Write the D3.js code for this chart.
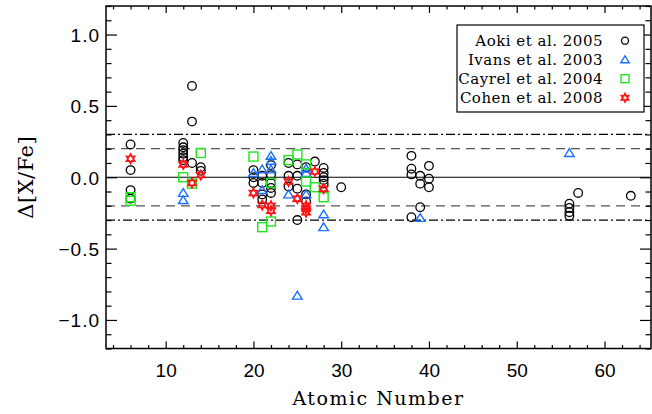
<!DOCTYPE html>
<html><head><meta charset="utf-8">
<script src="https://cdn.jsdelivr.net/npm/d3@7"></script>
<style>
html,body{margin:0;padding:0;background:#fff;}
svg{display:block;}
</style></head>
<body>
<svg id="chart" width="652" height="414"></svg>
<script>
// ---- data ----
const aokiZ   = [6,6,6,6, 12,12,12,12,12,12, 13,13,13, 14,14, 20,20,20, 21,21,21,21, 22,22,22,22,22, 24,24,24, 25,25,25,25, 26,26,26, 27, 28,28,28,28,28, 30, 38,38,38,38, 39,39,39, 40,40,40, 56,56,56,56, 57, 63];
const aokiV   = [0.23,0.05,-0.09,-0.15, 0.24,0.21,0.19,0.165,0.14,0.12, 0.64,0.39,0.10, 0.07,0.045, 0.05,0.0,-0.04, 0.01,-0.04,-0.12,-0.155, 0.085,0.015,-0.04,-0.075,-0.11, 0.10,0.01,-0.065, 0.09,0.01,-0.08,-0.30, 0.07,-0.12,-0.17, 0.11, 0.065,0.03,0.0,-0.02,-0.045, -0.07, 0.15,0.06,0.02,-0.28, 0.01,-0.045,-0.21, 0.08,-0.01,-0.07, -0.185,-0.215,-0.245,-0.27, -0.11, -0.13];
const ivansZ  = [12,12, 20, 21,21, 22,22,22, 24, 25, 26,26,26, 28,28, 39, 56];
const ivansV  = [-0.11,-0.16, 0.03, 0.055,-0.09, 0.15,0.115,0.055, -0.12, -0.83, 0.06,0.03,-0.12, -0.26,-0.35, -0.285, 0.17];
const cayrelZ = [6,6, 12, 13, 14, 20, 21, 22,22, 24, 25, 26,26, 27, 28];
const cayrelV = [-0.14,-0.165, 0.0, -0.045, 0.17, 0.145, -0.35, -0.04,-0.31, 0.12, 0.16, 0.09,-0.03, -0.07, -0.14];
const cohenZ  = [6, 12, 13, 14, 20, 21, 22,22, 24, 25, 26,26,26, 27, 28];
const cohenV  = [0.13, 0.09, -0.04, 0.015, -0.11, -0.195, -0.2,-0.235, -0.03, -0.15, -0.2,-0.22,-0.245, 0.04, -0.08];
const legendLabels = ["Aoki et al. 2005","Ivans et al. 2003","Cayrel et al. 2004","Cohen et al. 2008"];
const xTicks = [10,20,30,40,50,60];
const yTicks = [-1.0,-0.5,0.0,0.5,1.0];
const refSolid = [0];
const refDash = [-0.2, 0.2];
const refDashDot = [-0.3, 0.3];

// ---- layout ----
const L=106, R=651, T=6, B=348.5;
const svg = d3.select("#chart");
const x = d3.scaleLinear().domain([3.2,65.3]).range([L,R]);
const y = d3.scaleLinear().domain([-1.2,1.2]).range([B,T]);

const colors = {aoki:"#000000", ivans:"#1a70ff", cayrel:"#1ee61e", cohen:"#ff1414"};

// reference lines
const g = svg.append("g");
g.selectAll(".rs").data(refSolid).enter().append("line")
  .attr("x1",L).attr("x2",R).attr("y1",d=>y(d)).attr("y2",d=>y(d))
  .attr("stroke","#000").attr("stroke-width",1.2);
g.selectAll(".rd").data(refDash).enter().append("line")
  .attr("x1",L).attr("x2",R).attr("y1",d=>y(d)).attr("y2",d=>y(d))
  .attr("stroke","#555").attr("stroke-width",1.3).attr("stroke-dasharray","9,6");
g.selectAll(".rdd").data(refDashDot).enter().append("line")
  .attr("x1",L).attr("x2",R).attr("y1",d=>y(d)).attr("y2",d=>y(d))
  .attr("stroke","#000").attr("stroke-width",1.2).attr("stroke-dasharray","9,3,2,3");

// symbols
function triPath(s){ const h=s*0.9; return `M0,${-h} L${s},${h*0.8} L${-s},${h*0.8} Z`; }
function starPath(r){
  let p="";
  for(let i=0;i<12;i++){
    const a = Math.PI/6*i - Math.PI/2;
    const rr = i%2===0 ? r : r*0.55;
    p += (i===0?"M":"L") + (rr*Math.cos(a)).toFixed(2)+","+(rr*Math.sin(a)).toFixed(2);
  }
  return p+"Z";
}
const zip = (a,b)=>a.map((d,i)=>({z:d,v:b[i]}));

function drawSeries(data, kind, gg){
  const sel = gg.selectAll(null).data(data).enter();
  if(kind==="aoki"){
    sel.append("circle").attr("cx",d=>x(d.z)).attr("cy",d=>y(d.v)).attr("r",4.3)
      .attr("fill","none").attr("stroke",colors.aoki).attr("stroke-width",1.3);
  } else if(kind==="ivans"){
    sel.append("path").attr("d",triPath(4.8)).attr("transform",d=>`translate(${x(d.z)},${y(d.v)})`)
      .attr("fill","none").attr("stroke",colors.ivans).attr("stroke-width",1.4);
  } else if(kind==="cayrel"){
    sel.append("rect").attr("x",d=>x(d.z)-4.5).attr("y",d=>y(d.v)-4.5).attr("width",9).attr("height",9)
      .attr("fill","none").attr("stroke",colors.cayrel).attr("stroke-width",1.4);
  } else {
    sel.append("path").attr("d",starPath(4.5)).attr("transform",d=>`translate(${x(d.z)},${y(d.v)})`)
      .attr("fill","none").attr("stroke",colors.cohen).attr("stroke-width",1.8);
  }
}
const pg = svg.append("g");
drawSeries(zip(aokiZ,aokiV),"aoki",pg);
drawSeries(zip(ivansZ,ivansV),"ivans",pg);
drawSeries(zip(cayrelZ,cayrelV),"cayrel",pg);
drawSeries(zip(cohenZ,cohenV),"cohen",pg);

// axes
const fmt = d => d.toFixed(1).replace("-","\u2212");
const xMinor = d3.range(4,66,2).filter(v=>v%10!==0);
const yMinor = d3.range(-12,13,1).map(v=>v/10).filter(v=>Math.abs(v*2-Math.round(v*2))>1e-6);

function styleAxis(a){ a.select(".domain").remove(); a.selectAll("line").attr("stroke","#000").attr("stroke-width",1.2); }

const xb = svg.append("g").attr("transform",`translate(0,${B})`)
  .call(d3.axisBottom(x).tickValues(xTicks).tickSize(-7).tickPadding(15).tickFormat(d3.format("d")));
styleAxis(xb);
xb.selectAll("text").attr("font-family","Liberation Sans, Arial, sans-serif").attr("font-size",19).attr("fill","#000");
const xbm = svg.append("g").attr("transform",`translate(0,${B})`)
  .call(d3.axisBottom(x).tickValues(xMinor).tickSize(-3.5).tickFormat(""));
styleAxis(xbm);
const xt = svg.append("g").attr("transform",`translate(0,${T})`)
  .call(d3.axisTop(x).tickValues(xTicks).tickSize(-7).tickFormat(""));
styleAxis(xt);
const xtm = svg.append("g").attr("transform",`translate(0,${T})`)
  .call(d3.axisTop(x).tickValues(xMinor).tickSize(-3.5).tickFormat(""));
styleAxis(xtm);

const yl = svg.append("g").attr("transform",`translate(${L},0)`)
  .call(d3.axisLeft(y).tickValues(yTicks).tickSize(-11).tickPadding(6).tickFormat(fmt));
styleAxis(yl);
yl.selectAll("text").attr("font-family","Liberation Sans, Arial, sans-serif").attr("font-size",19).attr("fill","#000").attr("dy","0.36em").attr("letter-spacing","1px");
const ylm = svg.append("g").attr("transform",`translate(${L},0)`)
  .call(d3.axisLeft(y).tickValues(yMinor).tickSize(-5.5).tickFormat(""));
styleAxis(ylm);
const yr = svg.append("g").attr("transform",`translate(${R},0)`)
  .call(d3.axisRight(y).tickValues(yTicks).tickSize(-11).tickFormat(""));
styleAxis(yr);
const yrm = svg.append("g").attr("transform",`translate(${R},0)`)
  .call(d3.axisRight(y).tickValues(yMinor).tickSize(-5.5).tickFormat(""));
styleAxis(yrm);

// frame
svg.append("rect").attr("x",L).attr("y",T).attr("width",R-L).attr("height",B-T)
  .attr("fill","none").attr("stroke","#000").attr("stroke-width",1.5);

// titles
svg.append("text").attr("x",(L+R)/2).attr("y",405).attr("text-anchor","middle")
  .attr("font-family","DejaVu Serif, serif").attr("font-size",19).attr("letter-spacing","1.5px")
  .text("Atomic Number");
svg.append("text").attr("transform",`translate(33,${(T+B)/2}) rotate(-90)`).attr("text-anchor","middle")
  .attr("font-family","DejaVu Serif, serif").attr("font-size",21).attr("letter-spacing","0.5px")
  .text("\u0394[X/Fe]");

// legend
const lg = svg.append("g");
lg.append("rect").attr("x",457).attr("y",25).attr("width",187).attr("height",87)
  .attr("fill","#fff").attr("stroke","#000").attr("stroke-width",1.2);
const kinds = ["aoki","ivans","cayrel","cohen"];
legendLabels.forEach((lab,i)=>{
  const cy = 40.7 + i*19;
  lg.append("text").attr("x",603).attr("y",cy).attr("dy","0.35em").attr("text-anchor","end")
    .attr("font-family","DejaVu Serif, serif").attr("font-size",15).attr("letter-spacing","0.5px").text(lab);
  const k = kinds[i];
  if(k==="aoki") lg.append("circle").attr("cx",625).attr("cy",cy).attr("r",3.5).attr("fill","none").attr("stroke",colors.aoki).attr("stroke-width",1.3);
  if(k==="ivans") lg.append("path").attr("d",triPath(4.2)).attr("transform",`translate(625,${cy})`).attr("fill","none").attr("stroke",colors.ivans).attr("stroke-width",1.4);
  if(k==="cayrel") lg.append("rect").attr("x",621).attr("y",cy-4).attr("width",8).attr("height",8).attr("fill","none").attr("stroke",colors.cayrel).attr("stroke-width",1.4);
  if(k==="cohen") lg.append("path").attr("d",starPath(4)).attr("transform",`translate(625,${cy})`).attr("fill","none").attr("stroke",colors.cohen).attr("stroke-width",1.8);
});
</script>
</body></html>
